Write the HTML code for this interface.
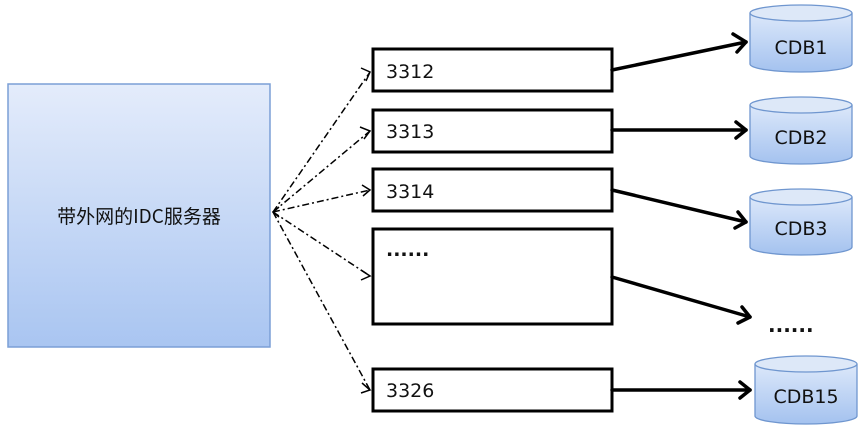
<!DOCTYPE html>
<html><head><meta charset="utf-8"><style>html,body{margin:0;padding:0;background:#fff;}</style></head>
<body>
<svg width="865" height="436" xmlns="http://www.w3.org/2000/svg" font-family="'DejaVu Sans','Noto Sans CJK SC',sans-serif">
<defs>
<linearGradient id="g" x1="0" y1="0" x2="0" y2="1"><stop offset="0" stop-color="#e4ecfb"/><stop offset="1" stop-color="#a9c5f1"/></linearGradient>
<linearGradient id="c" x1="0" y1="0" x2="0" y2="1"><stop offset="0" stop-color="#dce8fa"/><stop offset="1" stop-color="#a4c2ef"/></linearGradient>
</defs>
<rect x="8" y="84" width="262" height="263" fill="url(#g)" stroke="#7b9fd6" stroke-width="1.5"/>
<text x="139" y="223" font-size="19" text-anchor="middle" fill="#111" font-family="'Noto Sans CJK SC',sans-serif">带外网的IDC服务器</text>
<g fill="#fff" stroke="#000" stroke-width="3">
<rect x="373" y="49" width="239" height="42"/>
<rect x="373" y="110" width="239" height="42"/>
<rect x="373" y="169" width="239" height="42"/>
<rect x="373" y="229" width="239" height="95"/>
<rect x="373" y="369" width="239" height="42"/>
</g>
<g font-size="19" fill="#111">
<text x="386" y="78">3312</text><text x="386" y="138">3313</text><text x="386" y="198">3314</text>
<text x="386" y="256" font-weight="bold">......</text><text x="386" y="397">3326</text>
<text x="768" y="332" font-weight="bold" font-size="20">......</text>
</g>
<g stroke="#000" stroke-width="1.5" fill="none" stroke-dasharray="7,3,2,3">
<line x1="273" y1="212" x2="370" y2="72"/><line x1="273" y1="212" x2="370" y2="131"/>
<line x1="273" y1="212" x2="370" y2="190"/><line x1="273" y1="212" x2="370" y2="276"/>
<line x1="273" y1="212" x2="370" y2="390"/>
</g>
<g stroke="#000" stroke-width="1.5" fill="none">
<path d="M361,68 L370,72 L366,81"/>
<path d="M360,127 L370,131 L364,139"/><path d="M362,185 L370,190 L363,196"/>
<path d="M361,270 L370,276 L361,280"/><path d="M362,383 L370,390 L361,393"/>
<path d="M279,207 L273,212 L279,217"/>
</g>
<g stroke="#000" stroke-width="3.5" fill="none" stroke-linecap="round" stroke-linejoin="round">
<line x1="612" y1="70" x2="746" y2="42"/><path d="M733,34 L746,42 L737,52"/>
<line x1="612" y1="130" x2="746" y2="130"/><path d="M736,122 L746,130 L736,138"/>
<line x1="612" y1="190" x2="746" y2="222"/><path d="M738,212 L746,222 L735,228"/>
<line x1="612" y1="277" x2="750" y2="317"/><path d="M742,307 L750,317 L738,323"/>
<line x1="612" y1="390" x2="750" y2="390"/><path d="M740,382 L750,390 L740,398"/>
</g>
<g stroke="#6f96cf" stroke-width="1.3">
<path d="M750,13 V64 A51,8 0 0 0 852,64 V13" fill="url(#c)"/><ellipse cx="801" cy="13" rx="51" ry="8" fill="#dde8f8"/>
<path d="M750,105 V156 A51,8 0 0 0 852,156 V105" fill="url(#c)"/><ellipse cx="801" cy="105" rx="51" ry="8" fill="#dde8f8"/>
<path d="M750,197 V247 A51,8 0 0 0 852,247 V197" fill="url(#c)"/><ellipse cx="801" cy="197" rx="51" ry="8" fill="#dde8f8"/>
<path d="M755,364 V416 A51,8 0 0 0 857,416 V364" fill="url(#c)"/><ellipse cx="806" cy="364" rx="51" ry="8" fill="#dde8f8"/>
</g>
<g font-size="19" fill="#111" text-anchor="middle">
<text x="801" y="54">CDB1</text><text x="801" y="144">CDB2</text><text x="801" y="235">CDB3</text><text x="806" y="403">CDB15</text>
</g>
</svg>
</body></html>
